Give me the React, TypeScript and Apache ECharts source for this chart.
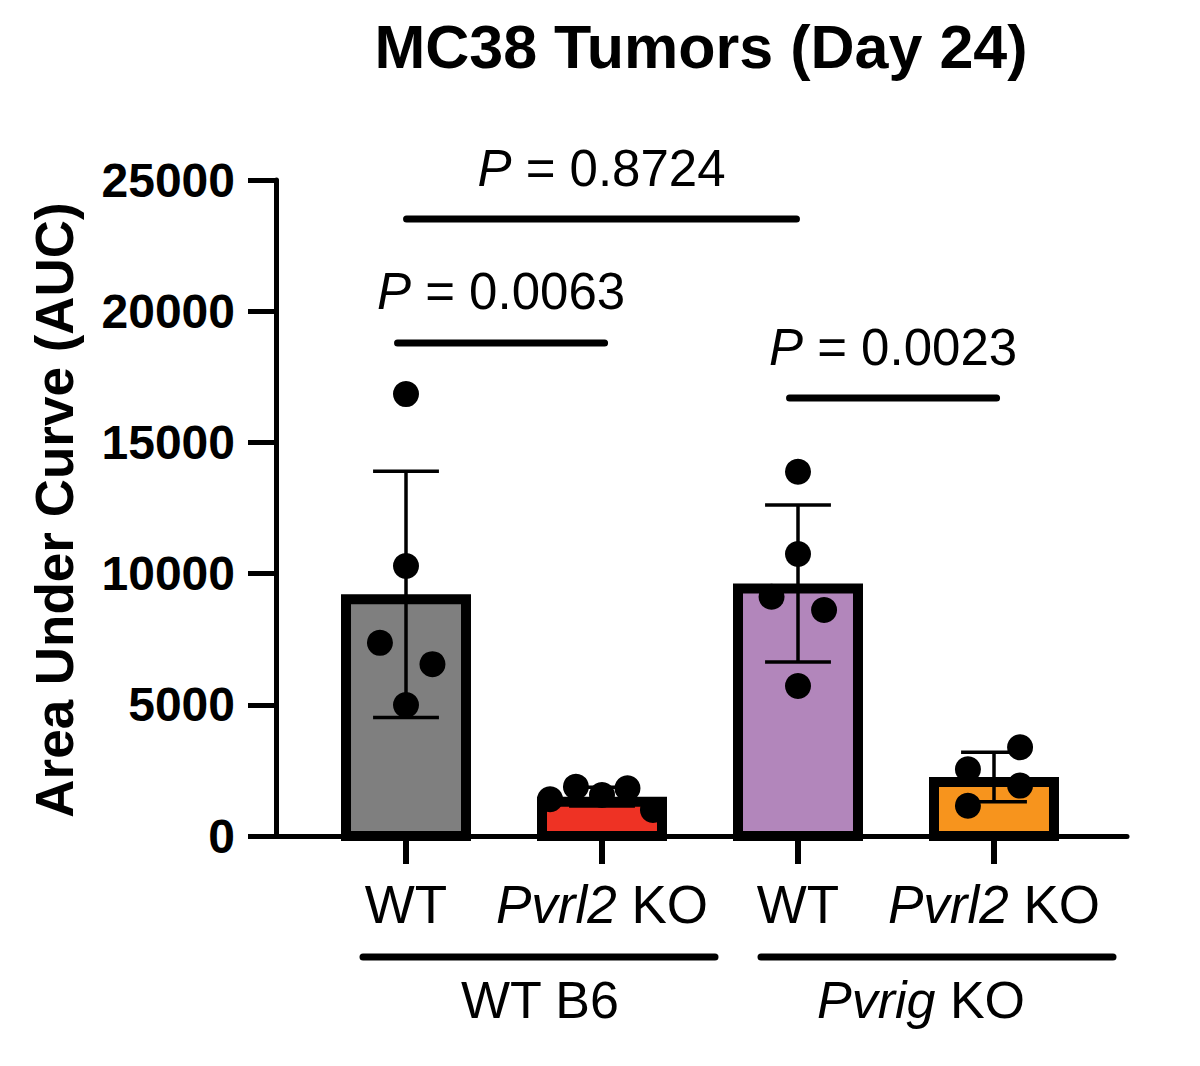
import React, { useEffect, useRef } from "react";
import * as echarts from "echarts";

// ---------- data ----------
const categories = ["WT", "Pvrl2 KO", "WT", "Pvrl2 KO"];
const groupNames = ["WT B6", "Pvrig KO"];
const barColors = ["#7f7f7f", "#ee3224", "#b286bb", "#f7941d"];

// individual animals (AUC)
const wtB6_WT = [16840, 10290, 7360, 6550, 4990];
const wtB6_Pvrl2KO = [1400, 1880, 1560, 1820, 990];
const pvrigKO_WT = [13880, 10750, 9120, 8610, 5720];
const pvrigKO_Pvrl2KO = [3380, 2540, 1920, 1150];

// horizontal scatter offsets (category units) used by the original plot
const jitter_wtB6_WT = [0, 0, -0.133, 0.135, 0];
const jitter_wtB6_Pvrl2KO = [-0.265, -0.133, 0, 0.13, 0.26];
const jitter_pvrigKO_WT = [0, 0, -0.135, 0.133, 0];
const jitter_pvrigKO_Pvrl2KO = [0.133, -0.133, 0.133, -0.133];

// bar means and SD
const means = [9210, 1500, 9620, 2250];
const sds = [4690, 360, 2990, 940];

// significance annotations
const pLabels = ["0.8724", "0.0063", "0.0023"];
const pFrom = [0.985, 0.939, 2.939];
const pTo = [3.01, 2.031, 4.031];
const pLevel = [23510, 18790, 16690];

const yTicks = [0, 5000, 10000, 15000, 20000, 25000];

// ---------- helpers ----------
const FONT = "'Liberation Sans', Arial, Helvetica, sans-serif";
const BAR_HALF = 0.3316;
const CAP_HALF = 0.168;

const groups = [wtB6_WT, wtB6_Pvrl2KO, pvrigKO_WT, pvrigKO_Pvrl2KO];
const jitters = [jitter_wtB6_WT, jitter_wtB6_Pvrl2KO, jitter_pvrigKO_WT, jitter_pvrigKO_Pvrl2KO];

export default function App() {
  const ref = useRef<HTMLDivElement>(null);

  useEffect(() => {
    if (!ref.current) return;
    const chart = echarts.init(ref.current, null, { renderer: "svg" });

    const barData = means.map((m, i) => [i + 1, m]);
    const errData = means.map((m, i) => [i + 1, m, sds[i]]);
    const pointData: number[][] = [];
    groups.forEach((g, gi) => {
      g.forEach((v, k) => pointData.push([gi + 1 + jitters[gi][k], v]));
    });
    const bracketData = pLabels.map((_, i) => [pFrom[i], pTo[i], pLevel[i]]);

    const option: any = {
      animation: false,
      backgroundColor: "#ffffff",
      grid: { left: 276, top: 180, width: 851, height: 656, containLabel: false },
      xAxis: {
        type: "value",
        min: 1 - 130 / 196,
        max: 1 - 130 / 196 + 851 / 196,
        splitLine: { show: false },
        axisLine: { show: true, onZero: false, lineStyle: { color: "#000", width: 5 } },
        axisTick: {
          show: true,
          customValues: [1, 2, 3, 4],
          length: 28,
          lineStyle: { color: "#000", width: 6 },
        },
        axisLabel: {
          show: true,
          customValues: [1, 2, 3, 4],
          margin: 42,
          formatter: (v: number) => {
            const c = categories[Math.round(v) - 1] || "";
            if (c.startsWith("Pvrl2")) return "{i|Pvrl2} {n|KO}";
            return "{n|" + c + "}";
          },
          rich: {
            i: { fontFamily: FONT, fontSize: 53, fontStyle: "italic", color: "#000", lineHeight: 53 },
            n: { fontFamily: FONT, fontSize: 53, color: "#000", lineHeight: 53 },
          },
          fontFamily: FONT,
          fontSize: 53,
          color: "#000",
          lineHeight: 53,
        },
      },
      yAxis: {
        type: "value",
        min: 0,
        max: 25000,
        interval: 5000,
        splitLine: { show: false },
        axisLine: { show: true, lineStyle: { color: "#000", width: 5 } },
        axisTick: { show: true, length: 28, lineStyle: { color: "#000", width: 5 } },
        axisLabel: {
          margin: 41,
          fontFamily: FONT,
          fontSize: 48,
          fontWeight: "bold",
          color: "#000",
          formatter: (v: number) => (yTicks.includes(v) ? String(v) : ""),
        },
      },
      graphic: [
        {
          type: "text",
          x: 701,
          y: 47,
          style: {
            text: "MC38 Tumors (Day 24)",
            fontFamily: FONT,
            fontSize: 61,
            fontWeight: "bold",
            fill: "#000",
            align: "center",
            verticalAlign: "middle",
          },
        },
        {
          type: "text",
          x: 54,
          y: 510,
          rotation: Math.PI / 2,
          style: {
            text: "Area Under Curve (AUC)",
            fontFamily: FONT,
            fontSize: 53,
            fontWeight: "bold",
            fill: "#000",
            align: "center",
            verticalAlign: "middle",
          },
        },
        {
          type: "line",
          shape: { x1: 363, y1: 957, x2: 715, y2: 957 },
          style: { stroke: "#000", lineWidth: 7, lineCap: "round" },
        },
        {
          type: "line",
          shape: { x1: 761, y1: 957, x2: 1113, y2: 957 },
          style: { stroke: "#000", lineWidth: 7, lineCap: "round" },
        },
        {
          type: "text",
          x: 540,
          y: 1000,
          style: {
            text: groupNames[0],
            fontFamily: FONT,
            fontSize: 52,
            fill: "#000",
            align: "center",
            verticalAlign: "middle",
          },
        },
        {
          type: "text",
          x: 921,
          y: 1000,
          style: {
            text: "{i|Pvrig} {n|KO}",
            fontFamily: FONT,
            fontSize: 52,
            fill: "#000",
            align: "center",
            verticalAlign: "middle",
            rich: {
              i: { fontFamily: FONT, fontSize: 52, fontStyle: "italic", fill: "#000" },
              n: { fontFamily: FONT, fontSize: 52, fill: "#000" },
            },
          },
        },
      ],
      series: [
        {
          type: "custom",
          name: "bars",
          z: 1,
          encode: { x: 0, y: 1 },
          data: barData,
          renderItem: (params: any, api: any) => {
            const x = api.value(0);
            const v = api.value(1);
            const tl = api.coord([x - BAR_HALF, v]);
            const br = api.coord([x + BAR_HALF, 0]);
            const bw = 10;
            return {
              type: "rect",
              shape: {
                x: tl[0] + bw / 2,
                y: tl[1] + bw / 2,
                width: br[0] - tl[0] - bw,
                height: br[1] - tl[1] - bw / 2,
              },
              style: { fill: barColors[params.dataIndex], stroke: "#000", lineWidth: bw },
            };
          },
        },
        {
          type: "custom",
          name: "sd",
          z: 2,
          encode: { x: 0, y: 1 },
          data: errData,
          renderItem: (params: any, api: any) => {
            const x = api.value(0);
            const m = api.value(1);
            const s = api.value(2);
            const top = api.coord([x, m + s]);
            const bot = api.coord([x, m - s]);
            const tL = api.coord([x - CAP_HALF, m + s]);
            const tR = api.coord([x + CAP_HALF, m + s]);
            const bL = api.coord([x - CAP_HALF, m - s]);
            const bR = api.coord([x + CAP_HALF, m - s]);
            const st = { stroke: "#000", lineWidth: 3.5 };
            return {
              type: "group",
              children: [
                { type: "line", shape: { x1: top[0], y1: top[1], x2: bot[0], y2: bot[1] }, style: st },
                { type: "line", shape: { x1: tL[0], y1: tL[1], x2: tR[0], y2: tR[1] }, style: st },
                { type: "line", shape: { x1: bL[0], y1: bL[1], x2: bR[0], y2: bR[1] }, style: st },
              ],
            };
          },
        },
        {
          type: "scatter",
          name: "animals",
          z: 3,
          symbol: "circle",
          symbolSize: 26,
          itemStyle: { color: "#000", opacity: 1 },
          data: pointData,
        },
        {
          type: "custom",
          name: "pvalues",
          z: 4,
          clip: false,
          encode: { x: [0, 1], y: 2 },
          data: bracketData,
          renderItem: (params: any, api: any) => {
            const a = api.coord([api.value(0), api.value(2)]);
            const b = api.coord([api.value(1), api.value(2)]);
            const mid = (a[0] + b[0]) / 2;
            return {
              type: "group",
              children: [
                {
                  type: "line",
                  shape: { x1: a[0] + 3.5, y1: a[1], x2: b[0] - 3.5, y2: b[1] },
                  style: { stroke: "#000", lineWidth: 7, lineCap: "round" },
                },
                {
                  type: "text",
                  style: {
                    x: mid,
                    y: a[1] - 51,
                    text: "{i|P} {n|= " + pLabels[params.dataIndex] + "}",
                    fontFamily: FONT,
                    fontSize: 51,
                    fill: "#000",
                    align: "center",
                    verticalAlign: "middle",
                    rich: {
                      i: { fontFamily: FONT, fontSize: 51, fontStyle: "italic", fill: "#000" },
                      n: { fontFamily: FONT, fontSize: 51, fill: "#000" },
                    },
                  },
                },
              ],
            };
          },
        },
      ],
    };

    chart.setOption(option);
    return () => chart.dispose();
  }, []);

  return (
    <div
      ref={ref}
      style={{ position: "fixed", left: 0, top: 0, width: 1200, height: 1066, background: "#fff" }}
    />
  );
}
